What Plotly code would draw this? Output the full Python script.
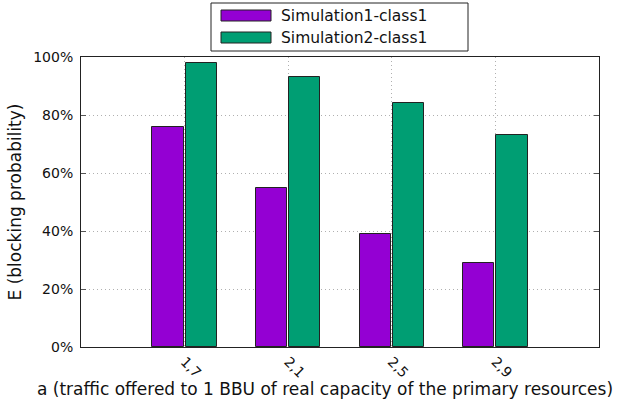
import plotly.graph_objects as go

# Blocking probability per offered traffic value
categories = ["1,7", "2,1", "2,5", "2,9"]
sim1_class1 = [76, 55, 39, 29]
sim2_class1 = [98, 93, 84, 73]
series_names = ["Simulation1-class1", "Simulation2-class1"]
y_ticks = [0, 20, 40, 60, 80, 100]

W, H = 622, 408
L, R, T, B = 81, 23, 57, 61
PW, PH = W - L - R, H - T - B
FONT = "DejaVu Sans"
C1, C2 = "#9400D3", "#009E73"


def px(x):
    return (x - L) / PW


def py(y):
    return (H - B - y) / PH


xpos = list(range(len(categories)))

fig = go.Figure()
fig.add_trace(go.Bar(x=xpos, y=sim1_class1, name=series_names[0], width=0.3, offset=-0.31,
                     marker=dict(color=C1, line=dict(color="#222222", width=1))))
fig.add_trace(go.Bar(x=xpos, y=sim2_class1, name=series_names[1], width=0.3, offset=0.01,
                     marker=dict(color=C2, line=dict(color="#222222", width=1))))

fig.update_layout(
    width=W, height=H, showlegend=False,
    margin=dict(l=L, r=R, t=T, b=B),
    plot_bgcolor="white", paper_bgcolor="white",
    font=dict(family=FONT, size=14, color="#111111"),
    bargap=0,
)
fig.update_xaxes(
    range=[-1, len(categories)], tickvals=xpos, ticktext=categories, tickangle=45,
    showgrid=True, gridcolor="#b0b0b0", griddash="1px,3px", gridwidth=1,
    showline=True, linecolor="#222222", linewidth=1, mirror=True,
    ticks="", zeroline=False, tickfont=dict(size=14),
)
fig.update_yaxes(
    range=[0, 100], tickvals=y_ticks, ticktext=[f"{v}%" for v in y_ticks],
    showgrid=True, gridcolor="#b0b0b0", griddash="1px,3px", gridwidth=1,
    showline=True, linecolor="#222222", linewidth=1, mirror="ticks",
    ticks="inside", ticklen=5, tickcolor="#555555", zeroline=False,
    ticklabelstandoff=4,
    title=dict(text="E (blocking probability)", standoff=7, font=dict(size=17)),
)

# X axis title
fig.add_annotation(text="a (traffic offered to 1 BBU of real capacity of the primary resources)",
                   xref="paper", yref="paper", x=px(325), y=py(389), xanchor="center",
                   yanchor="middle", showarrow=False, font=dict(size=17))

# Legend box with wide swatches
fig.add_shape(type="rect", xref="paper", yref="paper", x0=px(211), x1=px(468), y0=py(51), y1=py(3),
              line=dict(color="#222222", width=1), fillcolor="white")
for i, (name, col) in enumerate(zip(series_names, [C1, C2])):
    top = 10 + 22 * i
    fig.add_shape(type="rect", xref="paper", yref="paper", x0=px(221), x1=px(271),
                  y0=py(top + 11), y1=py(top), line=dict(color="#222222", width=1), fillcolor=col)
    fig.add_annotation(text=name, xref="paper", yref="paper", x=px(279), y=py(top + 5.5),
                       xanchor="left", yanchor="middle", showarrow=False, font=dict(size=15.5))

fig.write_html("out.html")
